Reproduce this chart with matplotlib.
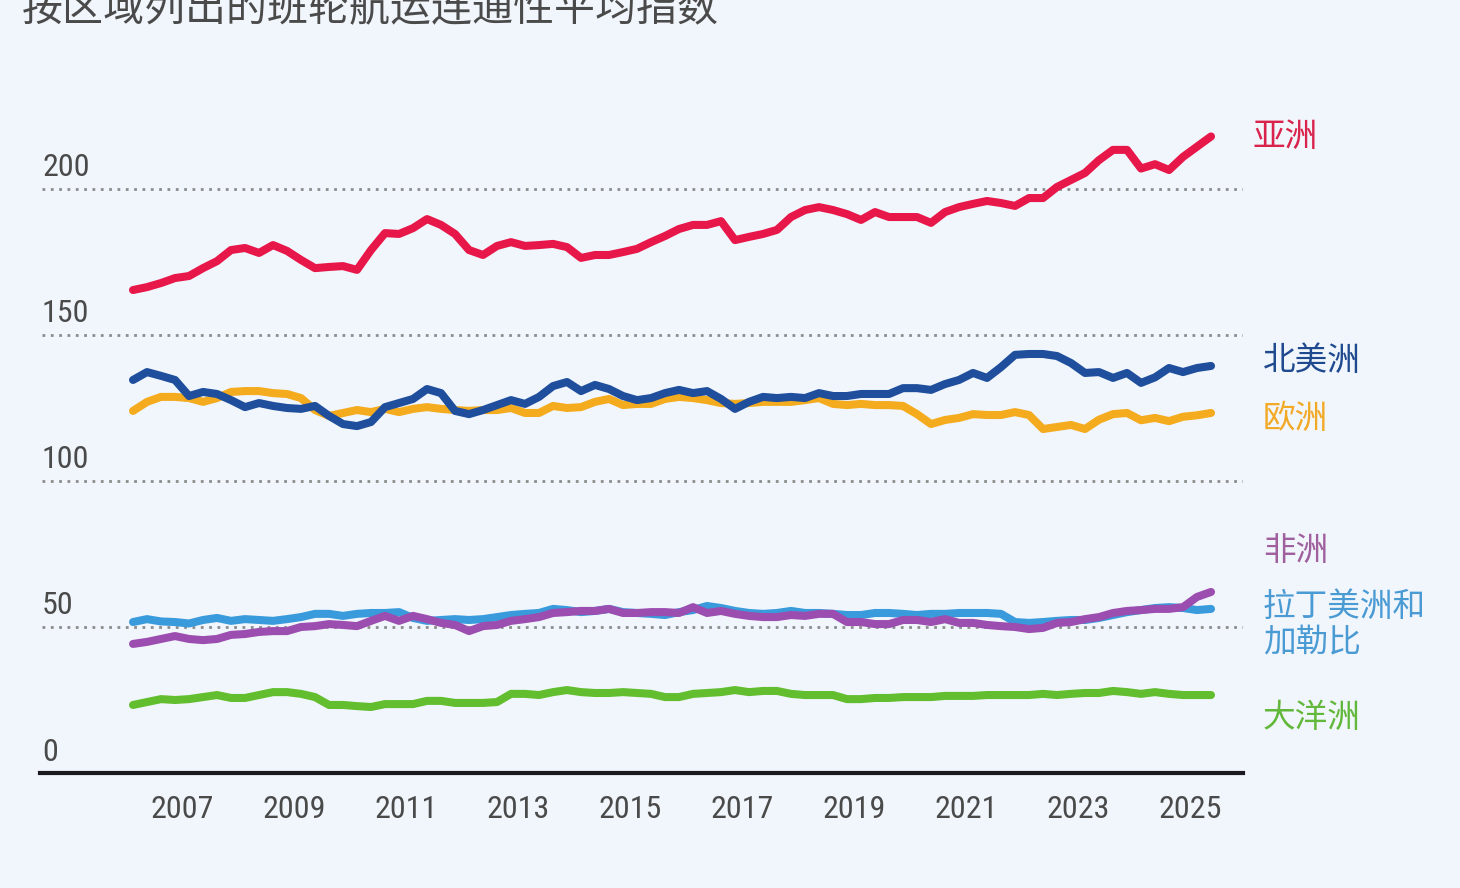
import matplotlib
matplotlib.use("Agg")
import matplotlib.pyplot as plt
from matplotlib import font_manager
import numpy as np

# ---------------- data (quarterly, 2006 Q1 - 2025 Q2) ----------------
start_year = 2006
n_quarters = 78

asia = [165.4, 166.4, 167.8, 169.5, 170.2, 172.9, 175.3, 179.1, 179.8, 178.1,
        180.8, 178.8, 175.7, 172.9, 173.3, 173.6, 172.3, 179.1, 184.9, 184.6,
        186.6, 189.7, 187.7, 184.6, 179.1, 177.4, 180.5, 181.8, 180.5, 180.8,
        181.2, 180.1, 176.4, 177.4, 177.4, 178.4, 179.5, 181.8, 183.9, 186.3,
        187.7, 187.7, 189.0, 182.5, 183.6, 184.6, 186.0, 190.4, 192.8, 193.8,
        192.8, 191.4, 189.4, 192.1, 190.4, 190.4, 190.4, 188.4, 192.1, 193.8,
        194.9, 195.9, 195.2, 194.2, 196.9, 196.9, 200.7, 203.1, 205.5, 209.9,
        213.4, 213.4, 207.0, 208.5, 206.5, 211.0, 214.5, 218.0]

north_america = [134.6, 137.3, 136.0, 134.6, 129.1, 130.5, 129.8, 127.7, 125.3, 126.7,
                 125.7, 125.0, 124.7, 125.7, 122.3, 119.5, 118.8, 120.2, 125.3, 126.7,
                 128.1, 131.5, 130.1, 124.0, 122.9, 124.3, 126.0, 127.7, 126.4, 128.8,
                 132.5, 133.9, 130.8, 132.9, 131.5, 129.1, 127.7, 128.4, 130.1, 131.2,
                 130.1, 130.8, 128.1, 124.7, 127.1, 128.8, 128.4, 128.8, 128.4, 130.1,
                 129.1, 129.1, 129.8, 129.8, 129.8, 131.8, 131.8, 131.2, 133.2, 134.6,
                 137.0, 135.3, 139.0, 143.2, 143.5, 143.5, 142.8, 140.4, 137.0, 137.3,
                 135.3, 137.0, 133.6, 135.5, 138.7, 137.3, 138.7, 139.4]

europe = [124.0, 127.1, 128.8, 128.8, 128.4, 127.1, 128.4, 130.5, 130.8, 130.8,
          130.1, 129.8, 128.4, 124.3, 122.3, 123.3, 124.3, 123.6, 124.7, 123.6,
          124.7, 125.3, 124.7, 124.3, 124.0, 124.3, 124.3, 125.0, 123.3, 123.3,
          125.7, 125.0, 125.3, 127.1, 128.1, 126.0, 126.4, 126.4, 128.1, 128.8,
          128.4, 127.7, 126.7, 126.4, 126.7, 127.1, 127.1, 127.1, 127.7, 128.4,
          126.4, 126.0, 126.4, 126.0, 126.0, 125.7, 122.9, 119.5, 120.9, 121.6,
          122.9, 122.6, 122.6, 123.6, 122.6, 117.8, 118.5, 119.2, 117.8, 121.0,
          122.9, 123.3, 120.8, 121.6, 120.5, 122.0, 122.5, 123.3]

africa = [44.2, 44.9, 45.9, 46.9, 45.9, 45.5, 45.9, 47.3, 47.6, 48.3,
          48.6, 48.6, 50.0, 50.3, 51.0, 50.7, 50.3, 52.1, 53.8, 52.1,
          53.8, 52.7, 51.4, 50.7, 48.6, 50.3, 50.7, 52.1, 52.7, 53.4,
          54.8, 55.1, 55.5, 55.5, 56.2, 54.8, 54.8, 55.1, 55.1, 54.8,
          56.8, 54.8, 55.5, 54.5, 53.8, 53.4, 53.4, 54.1, 53.8, 54.5,
          54.5, 51.7, 51.7, 51.0, 51.0, 52.4, 52.4, 51.7, 52.7, 51.4,
          51.4, 50.7, 50.3, 50.0, 49.3, 49.7, 51.4, 51.7, 52.7, 53.4,
          54.8, 55.5, 55.8, 56.2, 56.2, 56.8, 60.3, 62.0]

latin_america = [51.7, 52.7, 51.9, 51.7, 51.2, 52.4, 53.1, 52.1, 52.7, 52.4,
                 52.1, 52.7, 53.4, 54.5, 54.5, 53.8, 54.5, 54.8, 54.8, 55.1,
                 53.1, 52.1, 52.4, 52.7, 52.4, 52.7, 53.4, 54.1, 54.5, 54.8,
                 56.2, 55.8, 55.1, 55.5, 56.2, 55.1, 54.8, 54.5, 54.1, 55.1,
                 55.8, 57.2, 56.5, 55.5, 54.8, 54.5, 54.8, 55.5, 54.8, 54.8,
                 54.5, 54.1, 54.1, 54.8, 54.8, 54.5, 54.1, 54.5, 54.5, 54.8,
                 54.8, 54.8, 54.5, 51.7, 51.4, 51.7, 52.1, 52.4, 52.4, 53.1,
                 54.1, 55.1, 55.8, 56.5, 56.8, 56.5, 55.8, 56.2]

oceania = [23.3, 24.3, 25.3, 25.0, 25.3, 26.0, 26.7, 25.7, 25.7, 26.7,
           27.7, 27.7, 27.1, 26.0, 23.3, 23.3, 22.9, 22.6, 23.6, 23.6,
           23.6, 24.7, 24.7, 24.0, 24.0, 24.0, 24.3, 27.1, 27.1, 26.7,
           27.7, 28.4, 27.7, 27.4, 27.4, 27.7, 27.4, 27.1, 26.0, 26.0,
           27.1, 27.4, 27.7, 28.4, 27.7, 28.1, 28.1, 27.1, 26.7, 26.7,
           26.7, 25.3, 25.3, 25.7, 25.7, 26.0, 26.0, 26.0, 26.4, 26.4,
           26.4, 26.7, 26.7, 26.7, 26.7, 27.1, 26.7, 27.1, 27.4, 27.4,
           28.1, 27.7, 27.1, 27.7, 27.1, 26.7, 26.7, 26.7]

region_labels = ["亚洲", "北美洲", "欧洲", "非洲", "拉丁美洲和\n加勒比", "大洋洲"]
y_ticks = [0, 50, 100, 150, 200]
x_ticks = [2007, 2009, 2011, 2013, 2015, 2017, 2019, 2021, 2023, 2025]
title = "按区域列出的班轮航运连通性平均指数"

# ---------------- style ----------------
BG = "#F1F6FC"
line_colors = ["#E8174A", "#1E4E9C", "#F5AB1E", "#9B4DB0", "#3A9BDC", "#62BE2E"]
label_colors = ["#D9234C", "#1F4A8F", "#F2A926", "#A0609E", "#4A9AD4", "#62B83A"]
TEXT = "#4A4A4A"

names = {f.name for f in font_manager.fontManager.ttflist}
num_font = "DejaVu Sans"
for cand in ["Roboto Condensed", "Liberation Sans Narrow", "Roboto", "Liberation Sans"]:
    if cand in names:
        num_font = cand
        break
CJK = ["Noto Sans CJK SC", "DejaVu Sans"]

x = start_year + 0.125 + 0.25 * np.arange(n_quarters)
series = [asia, north_america, europe, africa, latin_america, oceania]

fig = plt.figure(figsize=(14.6, 8.88), dpi=100, facecolor=BG)
ax = fig.add_axes([40 / 1460, 115 / 888, 1203 / 1460, 671.6 / 888])
ax.set_facecolor(BG)

ax.set_xlim(2004.464, 2025.946)
ax.set_ylim(0, 230)

for v in y_ticks[1:]:
    ax.plot([2004.5, 2025.946], [v, v], color="#8C8C8C", lw=2.0,
            linestyle=(0, (1, 2)), solid_capstyle="butt", zorder=1)

for vals, c in zip(series[::-1], line_colors[::-1]):
    ax.plot(x, vals, color=c, lw=5.8, solid_capstyle="round",
            solid_joinstyle="round", zorder=3)

for s in ["top", "right", "left"]:
    ax.spines[s].set_visible(False)
ax.spines["bottom"].set_color("#1B1B1F")
ax.spines["bottom"].set_linewidth(3)
ax.spines["bottom"].set_zorder(5)

ax.set_yticks([])
ax.set_xticks(x_ticks)
ax.set_xticklabels([str(t) for t in x_ticks], fontsize=23, color=TEXT,
                   family=num_font)
ax.tick_params(axis="x", length=0, pad=16)

for v in y_ticks:
    ax.annotate(str(v), xy=(2.0 / 1203, v), xycoords=("axes fraction", "data"),
                xytext=(0, 9), textcoords="offset points",
                ha="left", va="baseline", fontsize=23, color=TEXT,
                family=num_font)

fig.text(22 / 1460, 1 - 9 / 888, title, ha="left", va="center",
         fontsize=29.5, color=TEXT, family=CJK)

label_pos = [(1252, 137), (1263, 361), (1263, 419), (1263, 551), (1263, 625), (1263, 718)]
for lab, (px, py), c in zip(region_labels, label_pos, label_colors):
    fig.text(px / 1460, 1 - py / 888, lab, ha="left", va="center",
             fontsize=23.5, color=c, family=CJK, linespacing=1.2)

fig.savefig("out.png", dpi=100, facecolor=BG)
